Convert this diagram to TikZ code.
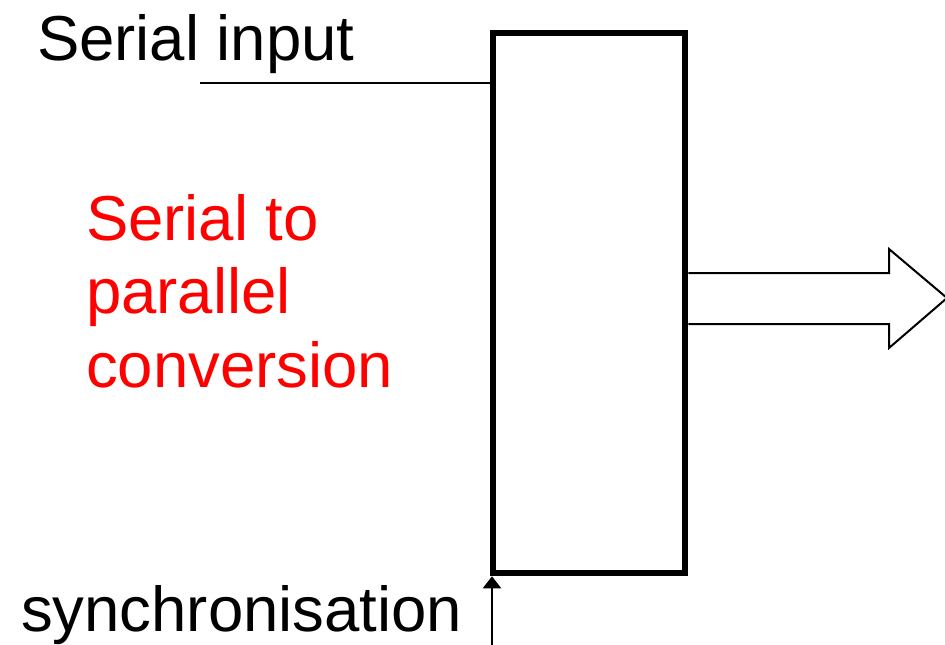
\documentclass[tikz,border=0pt]{standalone}
\usepackage{fontspec}
\setmainfont{Liberation Sans}
\usetikzlibrary{arrows.meta}
\definecolor{labelred}{RGB}{255,0,0}
\tikzset{
  lbl/.style={inner sep=0pt, outer sep=0pt, anchor=base west, font=\fontsize{63.5}{73.5}\selectfont},
  thinline/.style={line width=2pt, draw=black},
  blockbox/.style={draw=black, line width=6.5pt, minimum width=192pt, minimum height=540pt, inner sep=0pt, fill=white}
}
\begin{document}
\begin{tikzpicture}[x=1pt,y=-1pt]
\useasboundingbox (0,0) rectangle (945,645);
\node[blockbox] (box) at (589,303) {};
\node[lbl] (tin) at (37,60) {Serial input};
\node[lbl, text=labelred, align=left] (conv) at (86,387) {Serial to\\parallel\\conversion};
\node[lbl] (tsync) at (21,631) {synchronisation};
% serial input line
\coordinate (sin) at (200,83);
\draw[thinline] (sin) -- (sin -| box.west);
% synchronisation arrow
\coordinate (syncend) at (492,650);
\draw[thinline, -{Triangle[width=18pt,length=12pt]}] (syncend) -- (syncend |- box.south);
% output hollow arrow
\coordinate (a1) at (box.east |- 0,273);
\coordinate (a2) at (box.east |- 0,324);
\draw[thinline, line join=miter] (a1) -- (889,273) -- (889,249) -- (947,298) -- (889,348) -- (889,324) -- (a2);
\end{tikzpicture}
\end{document}
